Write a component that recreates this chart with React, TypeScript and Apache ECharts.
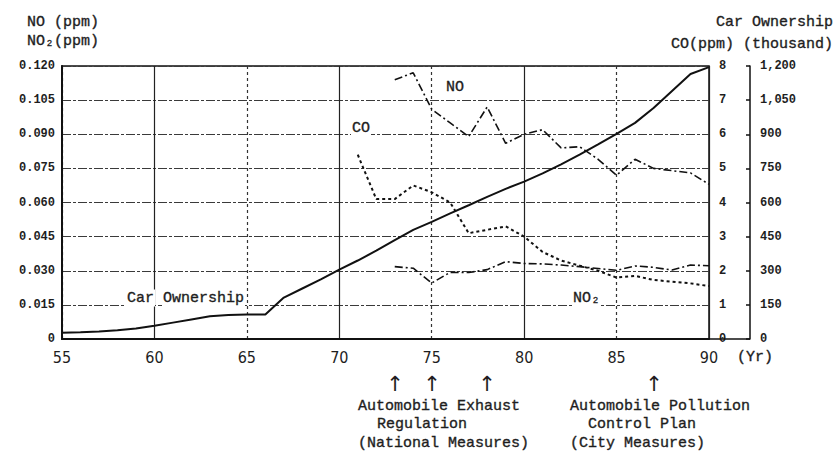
import React, { useEffect, useRef } from "react";
import * as echarts from "echarts";

// ---- data ----
const carYears = [55, 56, 57, 58, 59, 60, 61, 62, 63, 64, 65, 66, 67, 68, 69, 70, 71, 72, 73, 74, 75, 76, 77, 78, 79, 80, 81, 82, 83, 84, 85, 86, 87, 88, 89, 90];
const carOwnership = [28, 30, 33, 38, 46, 58, 72, 86, 100, 106, 108, 108, 182, 222, 262, 305, 345, 388, 435, 480, 515, 552, 588, 625, 660, 692, 728, 768, 810, 855, 902, 950, 1015, 1090, 1165, 1195];

const noYears = [73, 74, 75, 76, 77, 78, 79, 80, 81, 82, 83, 84, 85, 86, 87, 88, 89, 90];
const noValues = [0.114, 0.117, 0.101, 0.095, 0.089, 0.102, 0.086, 0.09, 0.092, 0.084, 0.0845, 0.079, 0.072, 0.079, 0.075, 0.074, 0.073, 0.068];

const coYears = [71, 72, 73, 74, 75, 76, 77, 78, 79, 80, 81, 82, 83, 84, 85, 86, 87, 88, 89, 90];
const coValues = [5.4, 4.1, 4.1, 4.5, 4.3, 4.0, 3.1, 3.2, 3.3, 3.0, 2.55, 2.3, 2.15, 2.0, 1.8, 1.85, 1.73, 1.68, 1.63, 1.55];

const no2Years = [73, 74, 75, 76, 77, 78, 79, 80, 81, 82, 83, 84, 85, 86, 87, 88, 89, 90];
const no2Values = [0.0318, 0.0311, 0.0246, 0.0293, 0.0292, 0.0305, 0.034, 0.0332, 0.033, 0.0325, 0.0318, 0.031, 0.0302, 0.0321, 0.0315, 0.0303, 0.0325, 0.0322];

const xMin = 55;
const xMax = 90;
const xStep = 5;
const leftMax = 0.12;
const leftStep = 0.015;
const coMax = 8;
const coStep = 1;
const carMax = 1200;
const carStep = 150;

const MONO = '"Liberation Mono", "DejaVu Sans Mono", monospace';
const NARROW = '"Liberation Sans Narrow", "DejaVu Sans Condensed", "Liberation Sans", sans-serif';
const INK = "#1e1e1e";

const pairs = (xs: number[], ys: number[]) => xs.map((x, i) => [x, ys[i]]);

export default function App() {
  const ref = useRef<HTMLDivElement>(null);
  useEffect(() => {
    if (!ref.current) return;
    const chart = echarts.init(ref.current, undefined, { renderer: "svg" });
    const txt = (text: string, x: number, y: number, opts: any = {}) => ({
      type: "text",
      x,
      y,
      z: 10,
      style: {
        text,
        fontFamily: MONO,
        fontSize: 15,
        fill: INK,
        stroke: INK,
        lineWidth: 0.35,
        verticalAlign: "middle",
        align: "left",
        ...opts,
      },
    });
    const bg = { backgroundColor: "#fff", padding: [1, 1] };
    const arrow = { align: "center", fontSize: 21, fontFamily: '"DejaVu Sans", sans-serif', lineWidth: 0 };
    const option: any = {
      animation: false,
      backgroundColor: "#fff",
      grid: {
        left: 62,
        right: 128,
        top: 66,
        bottom: 135,
        show: true,
        borderColor: "#111",
        borderWidth: 1.5,
        backgroundColor: "transparent",
      },
      xAxis: [
        {
          type: "value",
          min: xMin,
          max: xMax,
          interval: xStep,
          axisLine: { show: true, lineStyle: { color: "#111", width: 2 } },
          axisTick: { show: false },
          axisLabel: { color: INK, fontSize: 16, fontFamily: NARROW, margin: 10 },
          splitLine: { show: true, lineStyle: { color: ["transparent", "#222"], width: 1.2, type: "solid" } },
        },
        {
          type: "value",
          min: xMin,
          max: xMax,
          interval: xStep,
          position: "bottom",
          axisLine: { show: false },
          axisTick: { show: false },
          axisLabel: { show: false },
          splitLine: { show: true, lineStyle: { color: ["#333", "transparent"], width: 1.2, type: [3, 3] } },
        },
      ],
      yAxis: [
        {
          type: "value",
          min: 0,
          max: leftMax,
          interval: leftStep,
          position: "left",
          axisLine: { show: true, lineStyle: { color: "#111", width: 2 } },
          axisTick: { show: false },
          axisLabel: {
            color: INK,
            fontFamily: MONO,
            fontSize: 12,
            fontWeight: "bold",
            margin: 7,
            formatter: (v: number) => (v === 0 ? "0" : v.toFixed(3)),
          },
          splitLine: { show: true, lineStyle: { color: "#3a3a3a", width: 1.1, type: [9, 2, 3, 2] } },
        },
        {
          type: "value",
          min: 0,
          max: coMax,
          interval: coStep,
          position: "right",
          axisLine: { show: false },
          axisTick: { show: false },
          axisLabel: { color: INK, fontFamily: MONO, fontSize: 12, fontWeight: "bold", margin: 10 },
          splitLine: { show: false },
        },
        {
          type: "value",
          min: 0,
          max: carMax,
          interval: carStep,
          position: "right",
          offset: 41,
          axisLine: { show: true, lineStyle: { color: "#111", width: 1.5 } },
          axisTick: { show: true, inside: true, length: 4, lineStyle: { color: "#111", width: 1.5 } },
          axisLabel: {
            color: INK,
            fontFamily: MONO,
            fontSize: 12,
            fontWeight: "bold",
            margin: 10,
            formatter: (v: number) => v.toLocaleString("en-US"),
          },
          splitLine: { show: false },
        },
      ],
      series: [
        {
          name: "Car Ownership",
          type: "line",
          xAxisIndex: 0,
          yAxisIndex: 2,
          data: pairs(carYears, carOwnership),
          showSymbol: false,
          symbol: "none",
          lineStyle: { color: "#111", width: 2, type: "solid" },
          z: 5,
        },
        {
          name: "NO",
          type: "line",
          xAxisIndex: 0,
          yAxisIndex: 0,
          data: pairs(noYears, noValues),
          symbol: "none",
          lineStyle: { color: "#111", width: 1.6, type: [8, 3, 2, 3] },
          z: 5,
        },
        {
          name: "CO",
          type: "line",
          xAxisIndex: 0,
          yAxisIndex: 1,
          data: pairs(coYears, coValues),
          symbol: "none",
          lineStyle: { color: "#111", width: 2, type: [3, 3] },
          z: 5,
        },
        {
          name: "NO2",
          type: "line",
          xAxisIndex: 0,
          yAxisIndex: 0,
          data: pairs(no2Years, no2Values),
          symbol: "none",
          lineStyle: { color: "#111", width: 1.6, type: [8, 3, 2, 3] },
          z: 5,
        },
      ],
      graphic: [
        txt("NO (ppm)", 27, 22),
        txt("NO₂(ppm)", 27, 41),
        txt("Car Ownership", 833, 22, { align: "right" }),
        txt("CO(ppm) (thousand)", 833, 44, { align: "right" }),
        txt("NO", 445, 87, bg),
        txt("CO", 351, 128, bg),
        txt("NO₂", 572, 298, bg),
        txt("Car", 126, 298, bg),
        txt("Ownership", 162, 298, bg),
        txt("(Yr)", 737, 357),
        { type: "line", z: 10, shape: { x1: 709, y1: 339, x2: 750, y2: 339 }, style: { stroke: "#111", lineWidth: 1.5 } },
        txt("↑", 395, 384, arrow),
        txt("↑", 432, 384, arrow),
        txt("↑", 487, 384, arrow),
        txt("↑", 654, 384, arrow),
        txt("Automobile Exhaust", 358, 406),
        txt("Regulation", 377, 424),
        txt("(National Measures)", 358, 443),
        txt("Automobile Pollution", 570, 406),
        txt("Control Plan", 588, 424),
        txt("(City Measures)", 570, 443),
      ],
    };
    chart.setOption(option);
    return () => chart.dispose();
  }, []);
  return (
    <div
      ref={ref}
      style={{ position: "fixed", left: 0, top: 0, width: 837, height: 474, background: "#fff" }}
    />
  );
}
